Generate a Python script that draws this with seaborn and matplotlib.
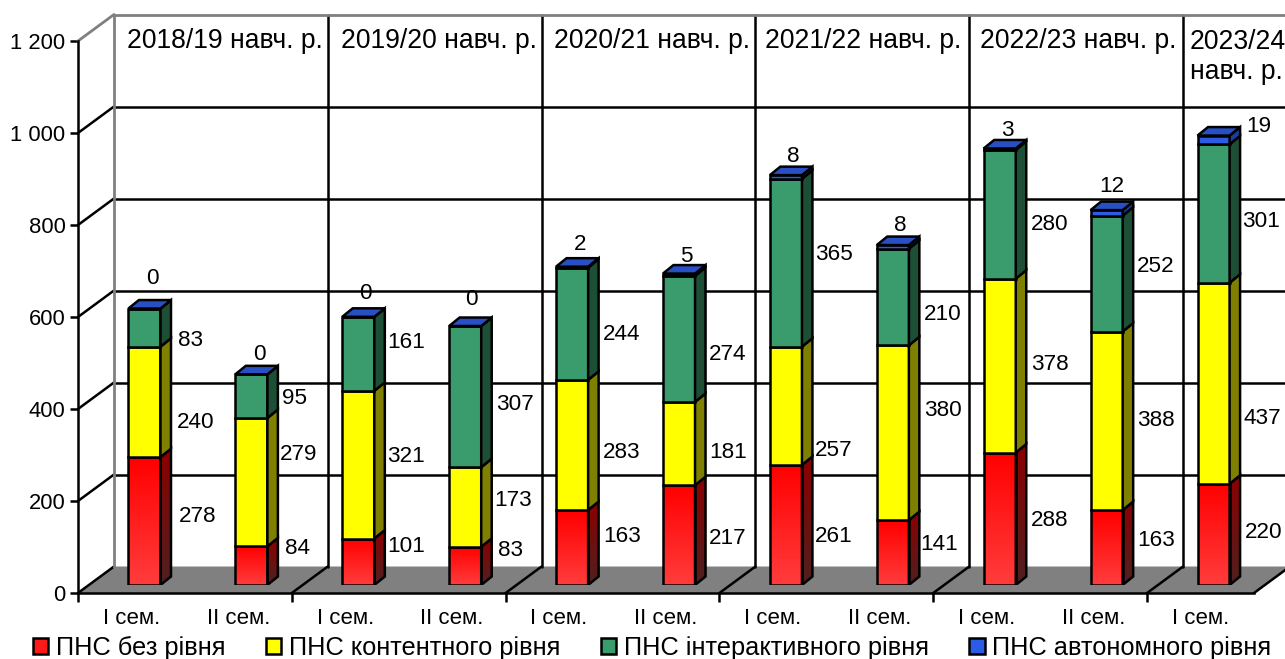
import numpy as np
import pandas as pd
import matplotlib
matplotlib.use('Agg')
import matplotlib.pyplot as plt
from matplotlib.colors import LinearSegmentedColormap
from matplotlib.patches import Patch, Polygon
from matplotlib.transforms import Affine2D, IdentityTransform
import seaborn as sns

# data
semesters = ['I сем.', 'II сем.'] * 5 + ['I сем.']
years = ['2018/19 навч. р.', '2019/20 навч. р.', '2020/21 навч. р.',
         '2021/22 навч. р.', '2022/23 навч. р.', '2023/24\nнавч. р.']
no_level = [278, 84, 101, 83, 163, 217, 261, 141, 288, 163, 220]
content = [240, 279, 321, 173, 283, 181, 257, 380, 378, 388, 437]
interactive = [83, 95, 161, 307, 244, 274, 365, 210, 280, 252, 301]
autonomous = [0, 0, 0, 0, 2, 5, 8, 8, 3, 12, 19]
series_names = ['ПНС без рівня', 'ПНС контентного рівня',
                'ПНС інтерактивного рівня', 'ПНС автономного рівня']
y_ticks = [0, 200, 400, 600, 800, 1000, 1200]
y_labels = ['0', '200', '400', '600', '800', '1 000', '1 200']

# hand placed labels in the original, pixel centres (x, y)
label_pos = [
    [(198, 517), (196, 422), (191, 340), (152, 279)],
    [(297, 548), (299, 455), (295, 399), (259, 354)],
    [(406, 546), (406, 456), (406, 342), (365, 294)],
    [(511, 550), (513, 501), (515, 405), (471, 300)],
    [(622, 537), (622, 452), (622, 334), (580, 245)],
    [(728, 539), (728, 452), (728, 355), (686, 257)],
    [(834, 536), (834, 451), (834, 255), (793, 156)],
    [(939, 544), (943, 411), (943, 315), (900, 225)],
    [(1050, 520), (1050, 364), (1050, 224), (1007, 130)],
    [(1156, 541), (1156, 420), (1156, 266), (1112, 186)],
    [(1264, 533), (1262, 419), (1261, 221), (1259, 127)],
]
year_x = [224.5, 438.5, 652.5, 863.5, 1078.5]

W, H = 1285, 659
LW = 1.8

# (front top, front bottom, side top, side bottom, top face)
colors = [
    ('#ff0000', '#ff3c3c', '#8c0000', '#4f2020', '#8c0000'),
    ('#ffff00', '#ffff00', '#808000', '#808000', '#c0c000'),
    ('#3a9c6c', '#3a9c6c', '#1d4e36', '#1d4e36', '#2c7551'),
    ('#2a5ce6', '#2a5ce6', '#1c3d99', '#1c3d99', '#2850c4'),
]

sns.set_theme(style='white', rc={'text.color': 'black', 'xtick.color': 'black', 'ytick.color': 'black'})
plt.rcParams['font.family'] = ['Liberation Sans', 'DejaVu Sans']

fig = plt.figure(figsize=(W / 100, H / 100), dpi=100)
ax = fig.add_axes([78 / W, (H - 593) / H, 1176 / W, 552 / H])
bar_ax = fig.add_axes([91 / W, (H - 585) / H, 1176 / W, 552 / H])
bar_ax.patch.set_alpha(0)
ax.patch.set_alpha(0)

XLIM = (-0.5, 10.5)
YLIM = (0, 1200)
for a in (ax, bar_ax):
    a.set_xlim(*XLIM)
    a.set_ylim(*YLIM)

# back wall sits 36 px right and 27 px up from the front plane
back = ax.transData + Affine2D().translate(36, 26.5)
pixels = IdentityTransform()


def diagonal(x, y, color='black', lw=LW):
    a = ax.transData.transform((x, y))
    b = back.transform((x, y))
    ax.plot([a[0], b[0]], [a[1], b[1]], color=color, lw=lw, transform=pixels, clip_on=False, zorder=0.6)


floor_px = [ax.transData.transform((XLIM[0], 0)), back.transform((XLIM[0], 0)),
            back.transform((XLIM[1], 0)), ax.transData.transform((XLIM[1], 0))]
ax.add_artist(Polygon(floor_px, closed=True, transform=pixels, facecolor='#808080',
                      edgecolor='none', zorder=0.5, clip_on=False))

# wall grid lines and their diagonals
for v in y_ticks[1:-1]:
    ax.plot(XLIM, [v, v], color='black', lw=LW, transform=back, clip_on=False, zorder=0.6)
    diagonal(XLIM[0], v)

# top edge and left wall edge in grey
ax.plot(XLIM, [1200, 1200], color='#808080', lw=LW + 0.2, transform=back, clip_on=False, zorder=0.7)
ax.plot([XLIM[0], XLIM[0]], YLIM, color='#808080', lw=LW + 0.2, transform=back, clip_on=False, zorder=0.7)
diagonal(XLIM[0], 1200, color='#808080', lw=LW + 0.2)

# separators between the study years, on the wall and across the floor
for x in np.arange(1.5, 10, 2):
    ax.plot([x, x], YLIM, color='black', lw=LW, transform=back, clip_on=False, zorder=0.6)
    diagonal(x, 0)
diagonal(XLIM[0], 0)
diagonal(XLIM[1], 0)

for s in ['top', 'right']:
    ax.spines[s].set_visible(False)
for s in ['left', 'bottom']:
    ax.spines[s].set_color('black')
    ax.spines[s].set_linewidth(LW)
    ax.spines[s].set_zorder(1)

ax.set_yticks(y_ticks, y_labels)
ax.tick_params(axis='y', length=6, width=LW, color='black', pad=3, labelsize=15.8, left=True)
ax.set_xticks(np.arange(-0.5, 10, 2), [''] * 6)
ax.set_xticks(np.arange(11), semesters, minor=True)
ax.tick_params(axis='x', which='major', length=6.5, width=LW, color='black', bottom=True)
ax.tick_params(axis='x', which='minor', length=0, pad=11, labelsize=16)


def shaded(target, extent, clip, top_c, bottom_c, z):
    cmap = LinearSegmentedColormap.from_list('g', [top_c, bottom_c])
    img = target.imshow(np.linspace(0, 1, 64)[:, None], cmap=cmap, extent=extent,
                        aspect='auto', origin='upper', zorder=z)
    img.set_clip_path(clip)


# the stacked bars
positions = np.arange(len(semesters))
bottoms = np.zeros(len(positions))
dx = 10.5 / (1176 / 11)
dy = 8.5 / (552 / 1200)
w = 0.3
series_values = [no_level, content, interactive, autonomous]
for values, cs in zip(series_values, colors):
    df = pd.DataFrame({'pos': positions, 'value': values})
    sns.barplot(data=df, x='pos', y='value', native_scale=True, color=cs[0], saturation=1,
                width=w, bottom=bottoms, edgecolor='black', linewidth=LW, errorbar=None,
                ax=bar_ax, zorder=3)
    for patch, x, y0, h in zip(bar_ax.containers[-1], positions, bottoms, values):
        y1 = y0 + h
        patch.set_joinstyle('miter')
        if cs[0] != cs[1]:
            shaded(bar_ax, (x - w / 2, x + w / 2, y0, y1), patch, cs[0], cs[1], 2)
            patch.set_facecolor('none')
        side_xy = [(x + w / 2, y0), (x + w / 2 + dx, y0 + dy), (x + w / 2 + dx, y1 + dy), (x + w / 2, y1)]
        side = Polygon(side_xy, closed=True, facecolor=cs[2], edgecolor='black', lw=LW, zorder=3, joinstyle='miter')
        bar_ax.add_patch(side)
        if cs[2] != cs[3]:
            shaded(bar_ax, (x + w / 2, x + w / 2 + dx, y0, y1 + dy), side, cs[2], cs[3], 2)
            side.set_facecolor('none')
    bottoms = bottoms + np.array(values)

# lid on top of each stack
for x, y in zip(positions, bottoms):
    lid_xy = [(x - w / 2, y), (x + w / 2, y), (x + w / 2 + dx, y + dy), (x - w / 2 + dx, y + dy)]
    bar_ax.add_patch(Polygon(lid_xy, closed=True, facecolor=colors[3][4], edgecolor='black',
                             lw=LW, zorder=3, joinstyle='miter'))

bar_ax.set_xlim(*XLIM)
bar_ax.set_ylim(*YLIM)
bar_ax.axis('off')

# value labels
for i, spots in enumerate(label_pos):
    for values, (px, py) in zip(series_values, spots):
        fig.text(px / W, 1 - py / H, str(values[i]), ha='center', va='center', fontsize=16.2, zorder=5)

# study year captions on the wall
for label, px in zip(years[:5], year_x):
    fig.text(px / W, 1 - 41 / H, label, ha='center', va='center', fontsize=19.1)
fig.text(1190 / W, 1 - 57 / H, years[5], ha='left', va='center', fontsize=19.1, linespacing=1.2)

handles = [Patch(facecolor=c[0] if i else '#ff1a1a', edgecolor='black', lw=LW) for i, c in enumerate(colors)]
fig.legend(handles, series_names, loc='center', bbox_to_anchor=(652 / W, 1 - 648 / H), ncol=4, frameon=False,
           fontsize=18.3, handlelength=0.6, handleheight=0.6, handletextpad=0.3, columnspacing=1.6,
           borderpad=0, borderaxespad=0, labelcolor='black')

fig.savefig('out.png', dpi=100)
